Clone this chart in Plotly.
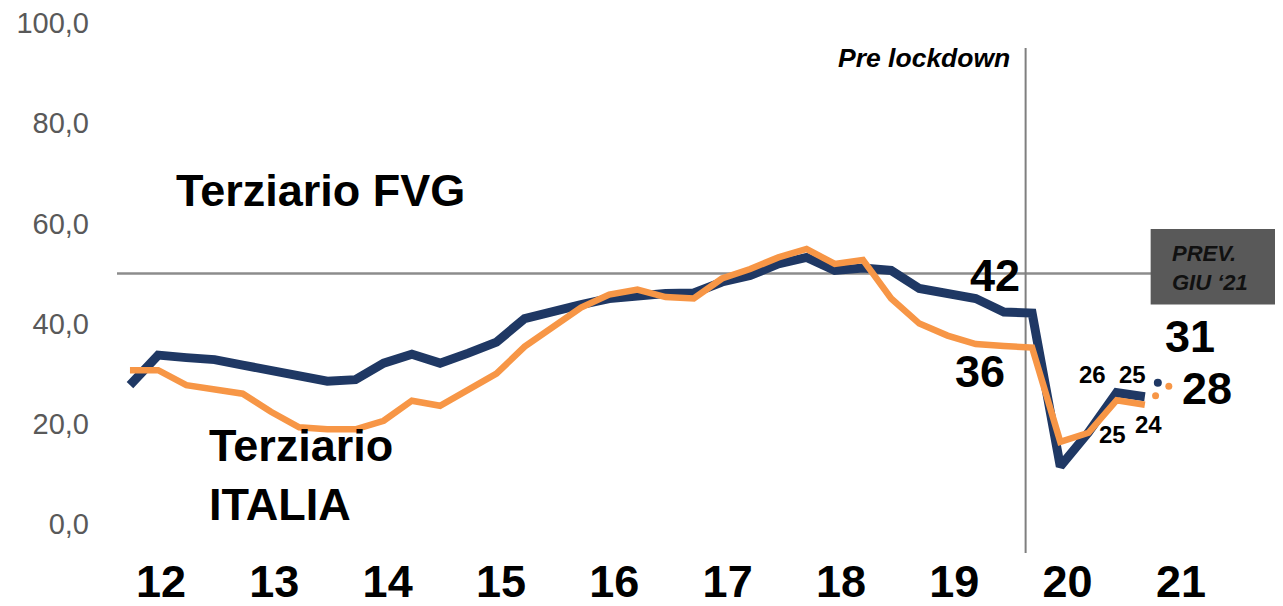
import plotly.graph_objects as go

# ---------------- data (quarter index 0 = 2012 Q1) ----------------
quarters = list(range(37))
fvg = [27.7, 33.7, 33.2, 32.8, 31.7, 30.5, 29.5, 28.5, 28.8, 32.1,
       33.9, 32.1, 34.1, 36.3, 41.0, 42.6, 43.8, 45.0, 45.6, 46.0,
       46.1, 48.3, 49.6, 51.9, 53.2, 50.6, 51.1, 50.6, 47.0, 46.0,
       45.0, 42.3, 42.1, 11.5, 18.3, 26.2, 25.4]
italia = [30.7, 30.7, 27.7, 26.8, 26.0, 22.4, 19.3, 18.9, 18.9, 20.6,
          24.6, 23.6, 26.7, 30.0, 35.4, 39.3, 43.2, 45.8, 46.8, 45.3,
          45.0, 49.0, 50.9, 53.2, 54.9, 51.9, 52.7, 45.0, 40.0, 37.6,
          35.9, 35.5, 35.2, 16.4, 18.2, 24.7, 23.8]

# forecast dots (towards "PREV. GIU '21")
fvg_dot_x = [36.46]
fvg_dot_y = [28.2]
ita_dot_x = [36.38, 36.85]
ita_dot_y = [25.6, 27.5]

year_labels = ["12", "13", "14", "15", "16", "17", "18", "19", "20", "21"]
y_ticks = [0, 20, 40, 60, 80, 100]
reference_level = 50
lockdown_x = 31.77

# value labels: (text, x, y, size)
value_labels = [
    ("42", 30.67, 49.6, 45),
    ("36", 30.14, 30.5, 45),
    ("31", 37.59, 37.5, 45),
    ("28", 38.19, 27.1, 45),
    ("26", 34.15, 29.9, 24),
    ("25", 35.57, 29.9, 24),
    ("25", 34.86, 17.9, 24),
    ("24", 36.13, 19.9, 24),
]

NAVY = "#1F3864"
ORANGE = "#F79646"
FONT = "Liberation Sans, Arial, sans-serif"

fig = go.Figure()
fig.add_trace(go.Scatter(x=quarters, y=fvg, mode="lines",
                         line=dict(color=NAVY, width=9), hoverinfo="skip",
                         showlegend=False))
fig.add_trace(go.Scatter(x=quarters, y=italia, mode="lines",
                         line=dict(color=ORANGE, width=6.5), hoverinfo="skip",
                         showlegend=False))
fig.add_trace(go.Scatter(x=fvg_dot_x, y=fvg_dot_y, mode="markers",
                         marker=dict(color=NAVY, size=8), showlegend=False))
fig.add_trace(go.Scatter(x=ita_dot_x, y=ita_dot_y, mode="markers",
                         marker=dict(color=ORANGE, size=7), showlegend=False))

# reference lines
fig.add_shape(type="line", xref="paper", x0=0, x1=1, yref="y",
              y0=reference_level, y1=reference_level,
              line=dict(color="#8C8C8C", width=2.5), layer="below")
fig.add_shape(type="line", xref="x", x0=lockdown_x, x1=lockdown_x, yref="y",
              y0=-5.8, y1=95, line=dict(color="#7F7F7F", width=2), layer="below")

# PREV box
fig.add_shape(type="rect", xref="paper", x0=0.8865, x1=1.0, yref="y",
              y0=43.8, y1=58.9, fillcolor="#595959", line=dict(width=0))
fig.add_annotation(xref="paper", x=0.903, yref="y", y=51.0, xanchor="left",
                   yanchor="middle", align="left", showarrow=False,
                   text="PREV.<br>GIU ‘21",
                   font=dict(family=FONT, size=22, color="#111111",
                             weight="bold", style="italic"))

fig.add_annotation(x=lockdown_x, xref="x", y=93.0, yref="y", xanchor="right",
                   yanchor="middle", xshift=-14, showarrow=False,
                   text="Pre lockdown",
                   font=dict(family=FONT, size=26.5, color="#000000",
                             weight="bold", style="italic"))

# series names
fig.add_annotation(x=1.55, y=66.5, xref="x", yref="y", xanchor="left",
                   yanchor="middle", showarrow=False, text="Terziario FVG",
                   font=dict(family=FONT, size=45, color="#000000", weight="bold"))
fig.add_annotation(x=2.75, y=9.7, xref="x", yref="y", xanchor="left",
                   yanchor="middle", align="left", showarrow=False,
                   text="Terziario<br>ITALIA",
                   font=dict(family=FONT, size=45, color="#000000", weight="bold"))

for txt, x, y, size in value_labels:
    fig.add_annotation(x=x, y=y, xref="x", yref="y", showarrow=False, text=txt,
                       xanchor="center", yanchor="middle",
                       font=dict(family=FONT, size=size, color="#000000",
                                 weight="bold"))

tick_pos = [1.1 + 4.02 * k for k in range(len(year_labels))]

# the page body adds an 8px offset; the figure is sized/margined to compensate
fig.update_layout(
    width=1275, height=598,
    margin=dict(l=109, r=0, t=14, b=52),
    plot_bgcolor="white", paper_bgcolor="white",
    separators=",.",
    xaxis=dict(range=[-0.46, 40.9], tickmode="array", tickvals=tick_pos,
               ticktext=year_labels, showgrid=False, zeroline=False,
               showline=False, ticks="", automargin=False,
               ticklabelstandoff=-3,
               tickfont=dict(family=FONT, size=45, color="#000000",
                             weight="bold")),
    yaxis=dict(range=[-6, 100.2], tickmode="array", tickvals=y_ticks,
               tickformat=".1f", showgrid=False, zeroline=False,
               showline=False, ticks="", ticklabelstandoff=27,
               automargin=False, ticklabeloverflow="allow",
               tickfont=dict(family=FONT, size=29, color="#595959")),
)

fig.write_html("out.html")
